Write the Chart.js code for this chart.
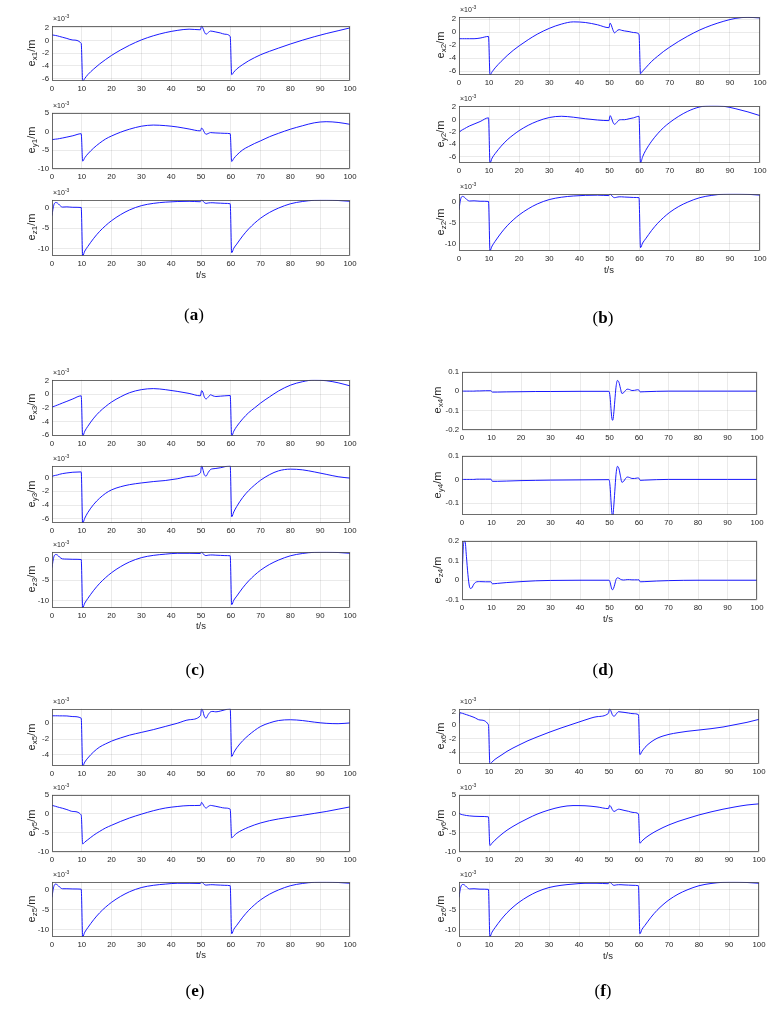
<!DOCTYPE html>
<html><head><meta charset="utf-8">
<script src="https://cdn.jsdelivr.net/npm/chart.js@4/dist/chart.umd.min.js"></script>
<style>
body{margin:0;background:#fff;width:783px;height:1014px;position:relative;overflow:hidden;font-family:"Liberation Sans",Arial,sans-serif;}
canvas{position:absolute;}
.yl{position:absolute;width:40px;height:40px;display:flex;align-items:center;justify-content:center;transform:rotate(-90deg);white-space:nowrap;font-size:11px;line-height:11px;color:#262626;}
.yl sub{font-size:8px;vertical-align:-2px;line-height:0}
.ex{position:absolute;font-size:7px;line-height:8px;color:#262626;white-space:nowrap}
.ex sup{font-size:5px;vertical-align:3px;line-height:0}
.xl{position:absolute;width:40px;height:20px;line-height:20px;text-align:center;font-size:9.5px;color:#262626;white-space:nowrap}
.pl{position:absolute;width:60px;height:30px;line-height:30px;text-align:center;font-family:"Liberation Serif","DejaVu Serif",serif;font-size:17px;color:#000;white-space:nowrap}
.pl b{font-weight:bold}
</style></head><body>
<script>
// ---------- data ----------
const T = [0,0.3,0.7,1.2,1.8,2.5,3.5,5,7,9.8, 10.3,11,12,14,16,18,20,23,26,30, 34,38,42,46,49.8,50.2,50.6,51.1,51.7,52.4, 53.2,54,55,56.5,58,59.8,60.3,61,62,64, 66,68,70,73,76,80,84,88,92,96, 100];
const TD = [0,0.5,1,1.5,2,2.5,3,3.5,4,5, 6,8,9.8,10.3,12,15,20,25,30,40, 49.8,50.2,50.5,50.8,51.1,51.4,51.8,52.2,52.7,53.2, 53.7,54.2,54.8,55.4,56,56.8,57.6,58.5,59.5,60, 60.4,62,66,70,80,90,100];

const ex1 = [0.9,0.87,0.84,0.8,0.74,0.65,0.52,0.33,0.08,-0.45, -6.4,-6.0,-5.4,-4.5,-3.7,-3.0,-2.35,-1.5,-0.75,0.1, 0.75,1.25,1.6,1.8,1.7,2.35,2.0,1.4,1.0,1.25, 1.5,1.45,1.35,1.2,1.0,0.65,-5.4,-5.0,-4.5,-3.8, -3.2,-2.7,-2.25,-1.7,-1.2,-0.55,0.05,0.6,1.1,1.55, 2.0];
const ey1 = [-2.2,-2.15,-2.1,-2.05,-2.0,-1.9,-1.75,-1.5,-1.15,-0.6, -7.9,-7.0,-6.0,-4.4,-3.1,-2.0,-1.2,-0.2,0.6,1.4, 1.7,1.55,1.2,0.65,0.15,0.9,0.6,-0.2,-0.75,-0.55, -0.3,-0.35,-0.4,-0.45,-0.5,-0.6,-8.0,-7.2,-6.3,-4.9, -4.0,-3.2,-2.5,-1.4,-0.5,0.6,1.5,2.3,2.6,2.4, 1.9];
const ez1 = [-2.0,-0.5,0.8,1.2,1.1,0.6,0.1,0.15,0.05,0.0, -11.7,-10.6,-9.5,-7.5,-5.8,-4.4,-3.2,-1.75,-0.6,0.45, 1.0,1.3,1.45,1.5,1.4,1.9,1.6,1.2,1.0,1.1, 1.15,1.15,1.1,1.05,1.0,0.9,-11.0,-9.9,-8.9,-6.9, -5.2,-3.8,-2.6,-1.2,-0.15,0.9,1.45,1.75,1.8,1.7, 1.5];

const ex2 = [-1.0,-1.0,-1.0,-1.0,-1.0,-1.0,-1.0,-1.0,-0.9,-0.65, -6.6,-6.1,-5.5,-4.5,-3.6,-2.8,-2.1,-1.15,-0.3,0.6, 1.25,1.6,1.5,1.15,0.7,1.4,1.1,0.4,-0.1,0.2, 0.4,0.3,0.2,0.1,-0.05,-0.3,-6.4,-6.0,-5.5,-4.5, -3.7,-2.95,-2.3,-1.4,-0.6,0.35,1.1,1.7,2.15,2.3, 2.2];
const ey2 = [-2.1,-1.95,-1.8,-1.65,-1.5,-1.3,-1.05,-0.75,-0.35,0.25, -7.0,-6.2,-5.5,-4.3,-3.3,-2.5,-1.8,-0.95,-0.3,0.3, 0.5,0.35,0.1,-0.1,-0.2,0.6,0.3,-0.4,-0.8,-0.5, -0.1,-0.05,-0.05,0.1,0.25,0.5,-7.0,-6.0,-5.0,-3.5, -2.3,-1.3,-0.5,0.5,1.3,2.0,2.2,2.1,1.7,1.2, 0.6];
const ez2 = [-2.0,-0.4,0.9,1.2,1.0,0.5,0.1,0.15,0.05,0.0, -11.7,-10.6,-9.5,-7.5,-5.8,-4.4,-3.2,-1.75,-0.6,0.45, 1.0,1.3,1.45,1.5,1.4,1.8,1.5,1.1,0.9,1.0, 1.1,1.1,1.05,1.0,0.95,0.9,-11.0,-9.9,-8.9,-6.9, -5.2,-3.8,-2.6,-1.2,-0.15,0.9,1.45,1.75,1.8,1.7, 1.5];

const ex3 = [-1.9,-1.85,-1.78,-1.7,-1.6,-1.48,-1.3,-1.05,-0.7,-0.25, -6.1,-5.4,-4.7,-3.5,-2.55,-1.8,-1.15,-0.4,0.2,0.65, 0.8,0.65,0.4,0.1,-0.25,0.5,0.3,-0.4,-0.7,-0.45, -0.1,-0.25,-0.35,-0.3,-0.25,-0.2,-6.1,-5.4,-4.7,-3.6, -2.7,-2.0,-1.3,-0.4,0.45,1.3,1.8,2.05,1.95,1.65, 1.2];
const ey3 = [0.1,0.2,0.25,0.3,0.35,0.45,0.55,0.65,0.75,0.8, -6.6,-5.9,-5.1,-3.9,-3.0,-2.3,-1.8,-1.35,-1.05,-0.8, -0.6,-0.45,-0.2,0.15,0.65,1.7,1.2,0.4,0.2,0.7, 1.15,1.25,1.3,1.4,1.55,1.7,-5.7,-5.0,-4.2,-2.9, -1.9,-1.1,-0.4,0.4,0.95,1.2,1.1,0.8,0.45,0.1, -0.1];
const ez3 = [-2.0,-0.5,0.8,1.2,1.1,0.6,0.15,0.1,0.05,0.0, -11.7,-10.6,-9.5,-7.5,-5.8,-4.4,-3.2,-1.75,-0.6,0.45, 1.0,1.3,1.5,1.5,1.45,1.9,1.5,1.1,0.95,1.05, 1.1,1.1,1.05,1.0,0.95,0.9,-11.0,-9.9,-8.9,-6.9, -5.2,-3.8,-2.6,-1.2,-0.15,0.9,1.45,1.75,1.8,1.7, 1.5];

const ex4 = [0,0,0,0,0,0,0,0,0,0.001, 0.001,0.002,0.002,-0.005,-0.005,-0.004,-0.003,-0.002,-0.002,-0.001, -0.001,-0.03,-0.09,-0.14,-0.15,-0.12,-0.05,0.02,0.055,0.045, 0.015,-0.012,-0.008,0.003,0.01,0.008,0.003,0.004,0.007,0.005, -0.004,-0.003,-0.001,0,0,0,0];
const ey4 = [0,0,0,0,0,0,0,0,0,0.001, 0.001,0.001,0.001,-0.008,-0.008,-0.007,-0.005,-0.004,-0.003,-0.002, -0.001,-0.03,-0.09,-0.14,-0.16,-0.12,-0.05,0.02,0.055,0.045, 0.015,-0.012,-0.008,0.003,0.01,0.008,0.004,0.004,0.006,0.005, -0.004,-0.003,-0.001,0,0,0,0];
const ez4 = [0,0.18,0.2,0.12,0.03,-0.03,-0.042,-0.035,-0.02,-0.008, -0.007,-0.008,-0.008,-0.018,-0.016,-0.012,-0.007,-0.003,-0.001,0, 0,-0.01,-0.03,-0.045,-0.048,-0.04,-0.02,0.003,0.012,0.01, 0.005,0.002,0.001,0.002,0.003,0.003,0.002,0.002,0.002,0.002, -0.008,-0.007,-0.004,-0.002,0,0,0];

const ex5 = [0.95,0.95,0.95,0.95,0.95,0.94,0.94,0.93,0.85,0.65, -5.4,-4.9,-4.4,-3.6,-3.0,-2.6,-2.25,-1.85,-1.5,-1.15, -0.8,-0.4,0.0,0.45,0.95,1.85,1.6,0.9,0.65,1.1, 1.45,1.5,1.45,1.55,1.7,1.85,-4.2,-3.7,-3.1,-2.2, -1.5,-0.9,-0.4,0.05,0.35,0.45,0.35,0.15,0.0,-0.05, 0.05];
const ey5 = [2.2,2.15,2.05,1.95,1.8,1.65,1.45,1.1,0.6,-0.3, -7.9,-7.4,-6.8,-5.6,-4.6,-3.7,-3.0,-2.0,-1.1,-0.1, 0.8,1.5,1.9,2.15,2.2,3.0,2.6,1.9,1.5,1.9, 2.2,2.1,1.95,1.7,1.5,1.2,-6.3,-5.8,-5.1,-4.2, -3.5,-2.9,-2.4,-1.8,-1.35,-0.85,-0.4,0.1,0.6,1.2, 1.8];
const ez5 = [-2.0,-0.4,0.9,1.3,1.1,0.6,0.15,0.15,0.1,0.05, -11.7,-10.6,-9.5,-7.5,-5.8,-4.4,-3.2,-1.75,-0.6,0.45, 1.0,1.3,1.5,1.5,1.45,1.9,1.6,1.2,1.05,1.1, 1.15,1.15,1.1,1.05,1.0,0.9,-11.0,-9.9,-8.9,-6.9, -5.2,-3.8,-2.6,-1.2,-0.15,0.9,1.45,1.75,1.8,1.7, 1.5];

const ex6 = [0.3,1.9,1.85,1.8,1.7,1.6,1.45,1.2,0.8,0.1, -5.8,-5.5,-5.1,-4.5,-3.9,-3.4,-2.95,-2.3,-1.75,-1.05, -0.4,0.2,0.8,1.3,1.8,2.5,2.2,1.6,1.35,1.7, 2.05,2.0,1.95,1.85,1.75,1.6,-4.4,-3.9,-3.3,-2.5, -1.95,-1.6,-1.35,-1.1,-0.9,-0.7,-0.5,-0.25,0.1,0.45, 0.9];
const ey6 = [0.2,0.0,-0.15,-0.25,-0.35,-0.45,-0.55,-0.65,-0.7,-0.8, -8.3,-7.7,-6.9,-5.5,-4.3,-3.3,-2.4,-1.2,-0.1,1.0, 1.8,2.15,2.1,1.8,1.35,2.2,1.9,1.1,0.6,0.9, 1.2,1.1,0.9,0.65,0.35,0.0,-7.7,-7.1,-6.4,-5.3, -4.4,-3.6,-2.9,-2.0,-1.25,-0.3,0.5,1.2,1.8,2.3, 2.6];
const ez6 = [-2.0,-0.5,0.8,1.2,1.1,0.6,0.1,0.15,0.05,0.0, -11.7,-10.6,-9.5,-7.5,-5.8,-4.4,-3.2,-1.75,-0.6,0.45, 1.0,1.3,1.5,1.5,1.4,1.9,1.6,1.2,1.0,1.1, 1.15,1.15,1.1,1.05,1.0,0.9,-11.0,-9.9,-8.9,-6.9, -5.2,-3.8,-2.6,-1.2,-0.15,0.9,1.45,1.75,1.8,1.7, 1.5];

// tick labels
const X_TICKS = [0,10,20,30,40,50,60,70,80,90,100];
const TK_2 = [-6,-4,-2,0,2];
const TK_2N = [-6,-4,-2,0];
const TK_4 = [-4,-2,0];
const TK_42 = [-4,-2,0,2];
const TK_5 = [-10,-5,0,5];
const TK_Z = [-10,-5,0];
const TK_D1 = [-0.2,-0.1,0,0.1];
const TK_D2 = [-0.1,0,0.1];
const TK_D3 = [-0.1,0,0.1,0.2];

// axis ranges [min,max]
const R = {
  x1:[-6.4,2.35], y1:[-10,5], z1:[-11.8,1.9],
  x2:[-6.6,2.4],  y2:[-7.0,2.2], z2:[-11.8,1.85],
  x3:[-6.1,2.1],  y3:[-6.6,1.7], z3:[-11.8,1.9],
  x4:[-0.2,0.1],  y4:[-0.15,0.1], z4:[-0.1,0.2],
  x5:[-5.4,1.85], y5:[-10,5], z5:[-11.8,1.9],
  x6:[-5.8,2.5],  y6:[-10,5], z6:[-11.8,1.9]
};

// ---------- layout ----------
const PANELS = [
  {n:1, L:52,  Rt:350, rows:[[24,81],[111,169],[198,256]], ylx:31,  xl:[201,275], pl:['a',194,315]},
  {n:2, L:459, Rt:760, rows:[[15,75],[104,163],[192,251]], ylx:440, xl:[609,270], pl:['b',603,318]},
  {n:3, L:52,  Rt:350, rows:[[378,436],[464,523],[550,608]], ylx:31, xl:[201,626], pl:['c',195,670]},
  {n:4, L:462, Rt:757, rows:[[370,430],[454,515],[539,600]], ylx:437, xl:[608,619], pl:['d',603,670]},
  {n:5, L:52,  Rt:350, rows:[[707,766],[793,852],[880,937]], ylx:31, xl:[201,955], pl:['e',195,991]},
  {n:6, L:459, Rt:759, rows:[[707,764],[793,852],[880,937]], ylx:440, xl:[608,956], pl:['f',603,991]}
];
const SERIES = {x1:ex1,y1:ey1,z1:ez1,x2:ex2,y2:ey2,z2:ez2,x3:ex3,y3:ey3,z3:ez3,x4:ex4,y4:ey4,z4:ez4,x5:ex5,y5:ey5,z5:ez5,x6:ex6,y6:ey6,z6:ez6};
const TICKS = {x1:TK_2,y1:TK_5,z1:TK_Z,x2:TK_2,y2:TK_2,z2:TK_Z,x3:TK_2,y3:TK_2N,z3:TK_Z,x4:TK_D1,y4:TK_D2,z4:TK_D3,x5:TK_4,y5:TK_5,z5:TK_Z,x6:TK_42,y6:TK_5,z6:TK_Z};

const PADL=34, PADT=6, PADR=13, PADB=14;
const FONT = "'Liberation Sans', Arial, sans-serif";
const TXT = '#262626', GRID = 'rgba(0,0,0,0.12)', BOX = '#4a4a4a';

const framePlugin = {
  id:'frame',
  afterDatasetsDraw(chart){
    const a = chart.chartArea, c = chart.ctx;
    c.save(); c.strokeStyle = BOX; c.lineWidth = 0.8;
    c.strokeRect(Math.round(a.left)+0.5, Math.round(a.top)+0.5, Math.round(a.right-a.left)-1, Math.round(a.bottom-a.top)-1);
    c.restore();
  }
};
function fmt(v){ return String(Math.round(v*1000)/1000); }

// place a fixed-size box centred (integer-aligned) on x,y
function addBox(cls, html, x, y, w, h){
  const d = document.createElement('div'); d.className = cls; d.innerHTML = html;
  d.style.left = Math.round(x - w/2)+'px'; d.style.top = Math.round(y - h/2)+'px';
  document.body.appendChild(d); return d;
}
function addDiv(cls, html, x, y){
  const d = document.createElement('div'); d.className = cls; d.innerHTML = html;
  d.style.left = x+'px'; d.style.top = y+'px'; document.body.appendChild(d); return d;
}

PANELS.forEach(p=>{
  ['x','y','z'].forEach((ax,ri)=>{
    const key = ax + p.n;
    const [top,bot] = p.rows[ri];
    const W = p.Rt - p.L, H = bot - top;
    const cv = document.createElement('canvas');
    cv.width = W + PADL + PADR; cv.height = H + PADT + PADB;
    cv.style.left = (p.L - PADL) + 'px'; cv.style.top = (top - PADT) + 'px';
    cv.style.width = cv.width + 'px'; cv.style.height = cv.height + 'px';
    document.body.appendChild(cv);
    const tArr = p.n === 4 ? TD : T;
    const vals = SERIES[key];
    const yt = TICKS[key];
    new Chart(cv.getContext('2d'), {
      type:'line',
      data:{datasets:[{data:tArr.map((t,i)=>({x:t,y:vals[i]})), borderColor:'#0000ff', borderWidth:0.9, pointRadius:0, cubicInterpolationMode:'monotone', fill:false}]},
      options:{
        responsive:false, animation:false, devicePixelRatio:1, events:[],
        layout:{padding:{left:0, top:PADT, right:PADR, bottom:0}},
        plugins:{legend:{display:false}, tooltip:{enabled:false}},
        scales:{
          x:{type:'linear', min:0, max:100,
             afterBuildTicks:s=>{ s.ticks = X_TICKS.map(v=>({value:v})); },
             afterFit:s=>{ s.height = PADB; },
             grid:{color:GRID, lineWidth:0.7, drawTicks:false},
             border:{display:false},
             ticks:{padding:3, autoSkip:false, maxRotation:0, color:TXT, font:{size:7.8, family:FONT}, callback:v=>fmt(v)}},
          y:{type:'linear', min:R[key][0], max:R[key][1],
             afterBuildTicks:s=>{ s.ticks = yt.map(v=>({value:v})); },
             afterFit:s=>{ s.width = PADL; },
             grid:{color:GRID, lineWidth:0.7, drawTicks:false},
             border:{display:false},
             ticks:{padding:3, autoSkip:false, color:TXT, font:{size:7.8, family:FONT}, callback:v=>fmt(v)}}
        }
      },
      plugins:[framePlugin]
    });
    addBox('yl', '<span>e<sub>' + key + '</sub>/m</span>', p.ylx, Math.round((top+bot)/2), 40, 40);
    if (p.n !== 4) addDiv('ex', '&times;10<sup>-3</sup>', p.L + 1, top - 9);
  });
  addBox('xl', 't/s', p.xl[0], p.xl[1], 40, 20);
  addBox('pl', '(<b>' + p.pl[0] + '</b>)', p.pl[1], p.pl[2], 60, 30);
});
</script>
</body></html>
